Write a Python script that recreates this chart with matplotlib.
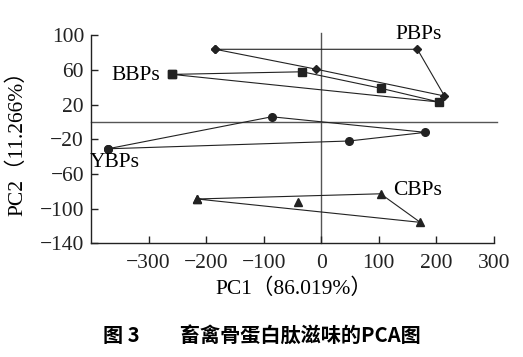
import numpy as np
import matplotlib.pyplot as plt

# PCA scores
pbps_x = [-184, 167, 214, -9]
pbps_y = [84, 84, 30, 61]
bbps_x = [-259, -33, 103, 205]
bbps_y = [55, 58, 39, 23]
ybps_x = [-371, -86, 181, 48]
ybps_y = [-31, 6, -12, -22]
cbps_x = [-216, 103, 172]
cbps_y = [-89, -83, -116]
cbps_extra_x = [-40]
cbps_extra_y = [-93]

xticks = [-300, -200, -100, 0, 100, 200, 300]
yticks = [-140, -100, -60, -20, 20, 60, 100]

plt.rcParams['font.family'] = ['Liberation Serif', 'Noto Sans CJK SC']

fig = plt.figure(figsize=(5.23, 3.57), dpi=100)
ax = fig.add_axes([0.174, 0.319, 0.776, 0.589])

ax.axvline(0, color='#555555', lw=1.0, ymin=0, ymax=1.0, clip_on=False, zorder=1)
ax.plot([-400, 305], [0, 0], color='#555555', lw=1.0, clip_on=False, zorder=1)


def closed(x, y):
    return list(x) + [x[0]], list(y) + [y[0]]


lc = '#222222'
x, y = closed(pbps_x, pbps_y)
ax.plot(x, y, color=lc, lw=0.8, marker='D', ms=4, zorder=3)
x, y = closed(bbps_x, bbps_y)
ax.plot(x, y, color=lc, lw=0.8, marker='s', ms=6, zorder=3)
x, y = closed(ybps_x, ybps_y)
ax.plot(x, y, color=lc, lw=0.8, marker='o', ms=5.5, zorder=3)
x, y = closed(cbps_x, cbps_y)
ax.plot(x, y, color=lc, lw=0.8, marker='^', ms=5.5, zorder=3)
ax.plot(cbps_extra_x, cbps_extra_y, ls='none', color=lc, marker='^', ms=5.5, zorder=3)

fs = 15.5
ax.text(169, 101, 'PBPs', fontsize=fs, ha='center', va='center')
ax.text(-280, 54, 'BBPs', fontsize=fs, ha='right', va='center')
ax.text(-359, -47, 'YBPs', fontsize=fs, ha='center', va='center')
ax.text(167, -79, 'CBPs', fontsize=fs, ha='center', va='center')

ax.set_xlim(-400, 305)
ax.set_ylim(-140, 103)
ax.set_xticks(xticks)
ax.set_yticks(yticks)
ax.spines['top'].set_visible(False)
ax.spines['right'].set_visible(False)
ax.spines['bottom'].set_bounds(-400, 300)
ax.spines['left'].set_bounds(-140, 101)
for s in ['left', 'bottom']:
    ax.spines[s].set_linewidth(1.0)
    ax.spines[s].set_color('#222222')
ax.tick_params(direction='in', length=5, width=1.0, labelsize=fs, colors='#222222')
ax.tick_params(axis='y', pad=5)
ax.tick_params(axis='x', pad=8)

ax.set_xlabel('PC1（86.019%）', fontsize=fs, labelpad=4)
ax.set_ylabel('PC2（11.266%）', fontsize=fs, labelpad=9)

fig.text(0.5, 0.06, '图 3　　畜禽骨蛋白肽滋味的PCA图', ha='center', va='center',
         fontsize=14.5, fontweight='bold', family=['Noto Sans CJK SC', 'DejaVu Sans'])

fig.savefig('out.png', dpi=100)
